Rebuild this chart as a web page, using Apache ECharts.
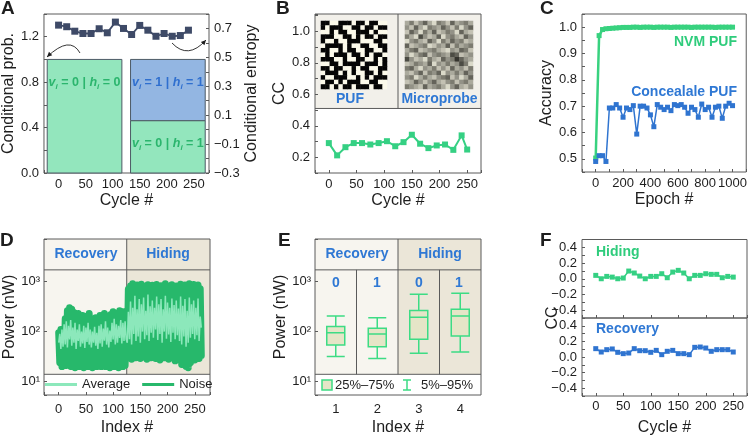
<!DOCTYPE html>
<html>
<head>
<meta charset="utf-8">
<script src="https://cdn.jsdelivr.net/npm/echarts@6/dist/echarts.min.js"></script>
<style>
html, body { margin: 0; padding: 0; background: #fff; }
#chart { width: 750px; height: 438px; }
</style>
</head>
<body>
<div id="chart"></div>
<script>
// ---- data ----
// A: conditional entropy per cycle, conditional probability blocks
const aCycles = [0, 15, 30, 45, 60, 75, 90, 105, 120, 135, 150, 165, 180, 195, 210, 225, 240];
const aEntropy = [0.723, 0.712, 0.681, 0.665, 0.665, 0.698, 0.670, 0.744, 0.700, 0.658, 0.721, 0.688, 0.646, 0.665, 0.646, 0.651, 0.688];
const condBars = [[-21, 117, 0, 1.0], [133, 271, 0.46, 1.0], [133, 271, 0, 0.46]]; // x0, x1, p0, p1
const condText = [['0', '0'], ['1', '1'], ['0', '1']]; // v_i | h_i

// B: correlation coefficient per cycle + the two maps
const bCycles = [0, 15, 30, 45, 60, 75, 90, 105, 120, 135, 150, 165, 180, 195, 210, 225, 240, 250];
const bCC = [0.290, 0.212, 0.264, 0.290, 0.290, 0.281, 0.290, 0.302, 0.270, 0.296, 0.343, 0.286, 0.258, 0.275, 0.281, 0.247, 0.339, 0.249];
const pufBits = [
  [1,1,0,0,1,1,1,0,1,1,0,1,1,0,0],
  [1,0,1,1,1,0,0,1,1,0,1,1,0,1,1],
  [0,0,1,0,1,1,0,0,1,1,1,0,1,0,0],
  [1,1,1,0,0,1,1,0,1,0,1,1,0,1,1],
  [1,0,0,1,0,0,1,1,1,0,0,0,1,1,0],
  [0,1,1,1,1,0,1,0,0,1,1,0,0,1,1],
  [1,1,0,0,1,0,1,1,0,0,1,1,0,0,1],
  [0,1,0,1,1,1,0,1,1,0,1,0,1,1,0],
  [1,1,1,0,0,1,0,0,1,1,0,0,1,0,1],
  [0,0,1,1,0,1,1,1,1,0,1,1,1,0,1],
  [1,1,0,1,1,0,0,1,0,1,1,0,0,1,1],
  [0,1,1,1,0,1,0,1,0,0,1,1,0,1,0],
  [1,0,0,1,1,1,0,0,1,0,1,0,1,1,1],
  [0,1,1,0,1,0,1,1,1,0,0,1,1,0,0],
  [1,1,0,1,0,1,1,0,1,1,1,0,1,1,0]
];
const probeGray = [
  [6,4,7,5,3,6,8,4,5,7,3,6,5,4,6],
  [5,7,3,6,8,4,5,6,3,5,7,4,8,5,3],
  [7,3,5,8,4,6,3,7,6,4,5,8,3,6,7],
  [4,6,8,2,5,7,6,3,8,5,4,6,7,3,5],
  [8,5,4,6,7,3,5,8,4,6,3,5,4,7,6],
  [3,7,6,5,4,8,7,5,6,3,7,4,6,5,4],
  [6,4,3,7,6,5,4,6,7,8,5,6,3,4,7],
  [5,8,6,4,3,7,5,4,5,6,2,3,7,6,5],
  [2,5,7,6,8,4,6,7,3,5,4,1,3,5,6],
  [7,6,4,5,6,3,8,5,6,4,6,5,2,4,8],
  [4,3,6,8,5,6,4,7,5,7,3,6,5,7,4],
  [6,7,5,3,7,4,5,3,8,5,6,4,6,3,5],
  [5,4,8,6,4,6,7,5,4,3,7,5,8,6,3],
  [7,6,3,5,7,5,3,6,7,5,4,7,5,4,6],
  [4,5,6,7,3,6,5,4,6,8,5,3,6,7,5]
];

// C: accuracy per epoch
const cEpochs = [0, 25, 50, 75, 100, 125, 150, 175, 200, 225, 250, 275, 300, 325, 350, 375, 400, 425, 450, 475, 500,
  525, 550, 575, 600, 625, 650, 675, 700, 725, 750, 775, 800, 825, 850, 875, 900, 925, 950, 975, 1000];
const nvmAcc = [0.503, 0.968, 0.991, 0.994, 0.995, 0.996, 0.997, 0.998, 0.999, 0.999, 0.999, 1.0, 1.0, 0.999, 1.0, 1.0, 1.0, 0.999, 1.0, 1.0, 1.0,
  1.0, 0.999, 1.0, 1.0, 1.0, 1.0, 1.0, 0.999, 1.0, 1.0, 1.0, 1.0, 1.0, 1.0, 0.999, 1.0, 1.0, 1.0, 1.0, 1.0];
const concealAcc = [0.490, 0.512, 0.512, 0.490, 0.693, 0.693, 0.706, 0.693, 0.658, 0.693, 0.687, 0.702, 0.594, 0.700, 0.700, 0.693, 0.667, 0.622, 0.706, 0.696, 0.687,
  0.696, 0.683, 0.706, 0.702, 0.706, 0.696, 0.673, 0.696, 0.687, 0.658, 0.708, 0.687, 0.696, 0.658, 0.696, 0.700, 0.654, 0.700, 0.711, 0.702];

// D: power trace, one sample every 2 indices
const noise = [
  95, 24, 110, 20, 105, 23, 180, 21, 260, 22,
  300, 20, 280, 23, 240, 19, 200, 21, 230, 20,
  170, 22, 210, 19, 190, 21, 200, 20, 230, 21,
  180, 19, 170, 22, 190, 20, 160, 23, 210, 20,
  190, 21, 230, 20, 200, 22, 180, 19, 220, 21,
  250, 20, 220, 22, 200, 19, 260, 21, 230, 20,
  250, 21, 240,
  30, 700, 33, 820, 28, 900, 35, 780, 30, 850,
  32, 760, 29, 880, 34, 800, 31, 720, 28, 860,
  33, 780, 30, 840, 36, 750, 29, 870, 32, 790,
  27, 830, 34, 760, 30, 900, 33, 810, 28, 740,
  35, 860, 31, 780, 26, 820, 33, 770, 30, 880,
  22, 790, 28, 850, 20, 760, 19, 900, 24, 830,
  30, 870, 27, 780, 32, 850, 29, 720, 33
];
const average = [
  60, 90, 45, 110, 50, 140, 55, 160, 48, 130,
  70, 170, 52, 120, 60, 150, 45, 110, 65, 140,
  50, 100, 58, 130, 47, 120, 62, 150, 55, 110,
  48, 100, 60, 125, 52, 95, 45, 130, 58, 140,
  50, 115, 66, 160, 55, 120, 48, 105, 62, 150,
  70, 180, 55, 140, 60, 130, 75, 170, 58, 150,
  65, 160, 70,
  60, 250, 70, 400, 55, 300, 90, 520, 65, 280,
  80, 450, 60, 350, 100, 480, 70, 260, 85, 550,
  65, 320, 95, 420, 75, 300, 110, 500, 68, 350,
  90, 450, 60, 280, 100, 520, 72, 380, 88, 300,
  62, 460, 95, 340, 70, 420, 85, 290, 65, 500,
  55, 330, 80, 450, 50, 260, 60, 480, 75, 350,
  90, 420, 70, 300, 85, 460, 65, 200, 120
];

// E: power distribution [5%, 25%, median, 75%, 95%]
const eIndex = ['1', '2', '3', '4'];
const eBoxes = [
  [31.6, 54, 95, 126, 206],
  [29, 50, 90, 117, 190],
  [37, 70, 194, 263, 558],
  [39, 82, 206, 280, 585]
];

// F: correlation coefficient per cycle
const fCycles = [0, 10, 20, 30, 40, 50, 60, 70, 80, 90, 100, 110, 120, 130, 140, 150, 160, 170, 180, 190, 200, 210, 220, 230, 240, 250];
const hidingCC = [0.043, 0.0, 0.03, 0.021, 0.0, 0.009, 0.098, 0.073, 0.034, 0.0, 0.03, 0.03, 0.064, 0.013, 0.085, 0.107, 0.073, 0.0, 0.043, 0.043, 0.064, 0.056, 0.056, 0.013, 0.03, 0.021];
const recoveryCC = [0.107, 0.064, 0.094, 0.103, 0.06, 0.043, 0.051, 0.107, 0.081, 0.081, 0.06, 0.085, 0.03, 0.073, 0.085, 0.043, 0.043, 0.03, 0.124, 0.128, 0.115, 0.073, 0.094, 0.094, 0.094, 0.064];

// ---- styling ----
const FONT = '"Liberation Sans", Arial, sans-serif';
const INK = '#1e1e1e';
const FRAME = '#5a5a5a';
const GREEN = '#35d083';
const BLUE = '#2f74d0';
const TXT_BLUE = '#2f78d4';
const TXT_GREEN = '#2fcc7c';
const REC_BG = '#f7f5ef';
const HID_BG = '#ebe6d8';

function isStep(v, step) { const k = v / step; return Math.abs(k - Math.round(k)) < 1e-6; }
function num(v, d) { return (Math.abs(v) < 1e-9 ? 0 : v).toFixed(d).replace('-', '\u2212'); }
function stepLabels(step, d) { return v => isStep(v, step) ? num(v, d) : ''; }
const SUP = { 1: '\u00b9', 2: '\u00b2', 3: '\u00b3' };
function powLabel(v) {
  const e = Math.log10(v), r = Math.round(e);
  return Math.abs(e - r) < 1e-6 && SUP[r] ? '10' + SUP[r] : '';
}

const noLine = { show: false, onZero: false };
const tickIn = { inside: true, length: 3, lineStyle: { color: FRAME } };

function vAxis(grid, min, max, step, fmt, extra) {
  return Object.assign({
    type: 'value', gridIndex: grid, min: min, max: max, minInterval: step, maxInterval: step,
    axisLine: noLine,
    axisTick: tickIn,
    splitLine: { show: false },
    axisLabel: { color: INK, fontSize: 13, fontFamily: FONT, margin: 5, formatter: fmt },
    nameLocation: 'middle',
    nameTextStyle: { color: INK, fontSize: 16, fontFamily: FONT }
  }, extra || {});
}
function logAxis(grid) {
  return {
    type: 'log', logBase: 10, gridIndex: grid, min: 5.4, max: 7100,
    axisLine: noLine,
    axisTick: tickIn,
    splitLine: { show: false },
    axisLabel: { color: INK, fontSize: 13, fontFamily: FONT, margin: 4, formatter: powLabel },
    name: 'Power (nW)', nameLocation: 'middle', nameGap: 22, nameRotate: 90,
    nameTextStyle: { color: INK, fontSize: 16, fontFamily: FONT }
  };
}
function hiddenCat(grid, n, inverse) {
  return { type: 'category', gridIndex: grid, show: false, inverse: !!inverse,
    data: Array.from({ length: n }, (_, i) => String(i)) };
}

function spanRect(api) {
  const a = api.coord([api.value(0), api.value(3)]);
  const b = api.coord([api.value(1), api.value(2)]);
  return { x: a[0], y: a[1], width: b[0] - a[0], height: b[1] - a[1] };
}
// background panels and divider lines, drawn under everything
function frameSeries(items, styles, xi, yi) {
  return {
    type: 'custom', xAxisIndex: xi, yAxisIndex: yi, z: -1, silent: true, clip: false,
    encode: { x: [0, 1], y: [2, 3] },
    data: items,
    renderItem: (params, api) => {
      const st = styles[params.dataIndex];
      if (st.line) {
        const a = api.coord([api.value(0), api.value(2)]);
        const b = api.coord([api.value(1), api.value(3)]);
        return { type: 'line', shape: { x1: a[0], y1: a[1], x2: b[0], y2: b[1] }, style: { stroke: st.line, lineWidth: 1 } };
      }
      return { type: 'rect', shape: spanRect(api), style: { fill: st.fill } };
    }
  };
}
function lineSeries(name, xs, ys, color, xi, yi, extra) {
  return Object.assign({
    type: 'line', name: name, xAxisIndex: xi, yAxisIndex: yi,
    data: xs.map((x, i) => [x, ys[i]]),
    symbol: 'rect', symbolSize: 5, showSymbol: true,
    itemStyle: { color: color }, lineStyle: { color: color, width: 1.5 },
    z: 3, silent: true
  }, extra || {});
}
function cells(rows) {
  const out = [];
  rows.forEach((row, r) => row.forEach((v, c) => out.push([c, r, v])));
  return out;
}

function condRich(v, h) { return '{it|v}{sub|i}{tx| = ' + v + ' | }{it|h}{sub|i}{tx| = ' + h + '}'; }
function condStyle(color) {
  const base = { fill: color, fontFamily: FONT, fontWeight: 'bold', lineHeight: 17 };
  return {
    it: Object.assign({}, base, { fontStyle: 'italic', fontSize: 12.5 }),
    sub: Object.assign({}, base, { fontStyle: 'italic', fontSize: 8, verticalAlign: 'bottom' }),
    tx: Object.assign({}, base, { fontSize: 12.5 })
  };
}
const condFill = ['#93e6bd', '#93b6e2', '#93e6bd'];
const condInk = ['#2bb56d', '#2f6fcf', '#2bb56d'];
const condLabelY = [0.8, 0.8, 0.26];

function label(text, x, y, style) {
  return { type: 'text', x: x, y: y, z: 10, silent: true,
    style: Object.assign({ text: text, fill: INK, fontSize: 14, fontWeight: 'bold', fontFamily: FONT,
      align: 'center', verticalAlign: 'middle' }, style || {}) };
}
function arrow(x1, y1, cx, cy, x2, y2) {
  const dx = x2 - cx, dy = y2 - cy, L = Math.hypot(dx, dy), ux = dx / L, uy = dy / L;
  const bx = x2 - 5 * ux, by = y2 - 5 * uy;
  return [
    { type: 'bezierCurve', z: 10, silent: true, shape: { x1: x1, y1: y1, x2: x2, y2: y2, cpx1: cx, cpy1: cy },
      style: { stroke: INK, lineWidth: 0.9, fill: 'none' } },
    { type: 'polygon', z: 10, silent: true,
      shape: { points: [[x2, y2], [bx - 2.4 * uy, by + 2.4 * ux], [bx + 2.4 * uy, by - 2.4 * ux]] },
      style: { fill: INK } }
  ];
}

const gridBox = { show: true, borderColor: FRAME, borderWidth: 1, backgroundColor: 'transparent' };

const chart = echarts.init(document.getElementById('chart'), null, { renderer: 'canvas' });

const xAxes = [
  vAxis(0, -27, 278, 50, stepLabels(50, 0), { name: 'Cycle #', nameGap: 20 }),
  vAxis(1, -25, 275, 50, stepLabels(50, 0), { name: 'Cycle #', nameGap: 20 }),
  hiddenCat(2, 15),
  hiddenCat(3, 15),
  vAxis(4, -100, 1100, 100, stepLabels(200, 0), { name: 'Epoch #', nameGap: 20 }),
  vAxis(5, -27, 278, 50, stepLabels(50, 0), { name: 'Index #', nameGap: 25 }),
  { type: 'category', gridIndex: 6, data: eIndex,
    axisLine: noLine, splitLine: { show: false },
    axisTick: { inside: true, length: 3, alignWithLabel: true, lineStyle: { color: FRAME } },
    axisLabel: { color: INK, fontSize: 13, fontFamily: FONT, margin: 8 },
    name: 'Index #', nameLocation: 'middle', nameGap: 25,
    nameTextStyle: { color: INK, fontSize: 16, fontFamily: FONT } },
  { type: 'value', gridIndex: 6, min: 0.5, max: 4.5, show: false, axisLine: noLine },
  vAxis(7, -25, 275, 50, () => ''),
  vAxis(8, -25, 275, 50, stepLabels(50, 0), { name: 'Cycle #', nameGap: 24 })
];
xAxes[5].axisLabel = Object.assign({}, xAxes[5].axisLabel, { margin: 8 });
xAxes[9].axisLabel = Object.assign({}, xAxes[9].axisLabel, { margin: 4 });

const yAxes = [
  vAxis(0, 0, 1.4, 0.2, stepLabels(0.4, 1), { name: 'Conditional prob.', nameGap: 23, nameRotate: 90 }),
  vAxis(0, -0.3, 0.8, 0.1, v => {
    const k = Math.round(v * 10);
    return Math.abs(v * 10 - k) < 1e-6 && Math.abs(k) % 2 === 1 ? num(v, 1) : '';
  }, { position: 'right', name: 'Conditional entropy', nameGap: 29, nameRotate: 90 }),
  vAxis(1, 0.1, 1.11, 0.1, stepLabels(0.2, 1), { name: 'CC', nameGap: 24, nameRotate: 90 }),
  hiddenCat(2, 15, true),
  hiddenCat(3, 15, true),
  vAxis(4, 0.45, 1.05, 0.05, stepLabels(0.1, 1), { name: 'Accuracy', nameGap: 23, nameRotate: 90 }),
  logAxis(5),
  logAxis(6),
  vAxis(7, -0.5, 0.5, 0.1, stepLabels(0.2, 1)),
  vAxis(8, -0.5, 0.5, 0.1, stepLabels(0.2, 1))
];
yAxes[7].nameGap = 24;

const series = [
  // 0 A blocks
  {
    type: 'custom', name: 'cond', xAxisIndex: 0, yAxisIndex: 0, z: 1, silent: true, clip: false,
    encode: { x: [0, 1], y: [2, 3] },
    data: condBars,
    renderItem: (params, api) => {
      const i = params.dataIndex;
      const c = api.coord([(api.value(0) + api.value(1)) / 2, condLabelY[i]]);
      return { type: 'group', children: [
        { type: 'rect', shape: spanRect(api), style: { fill: condFill[i], stroke: '#4d5a66', lineWidth: 1 } },
        { type: 'text', x: c[0], y: c[1], style: {
          text: condRich(condText[i][0], condText[i][1]), rich: condStyle(condInk[i]),
          fill: condInk[i], align: 'center', verticalAlign: 'middle' } }
      ] };
    }
  },
  // 1 A entropy
  lineSeries('entropy', aCycles, aEntropy, '#3e4a67', 0, 1, { symbolSize: 7, lineStyle: { color: '#3e4a67', width: 1.8 } }),
  // 2 B inset frame
  frameSeries([[-25, 275, 0.51, 1.11], [-25, 275, 0.51, 0.51], [125, 125, 0.51, 1.11]],
    [{ fill: '#f2f0ea' }, { line: FRAME }, { line: FRAME }], 1, 2),
  // 3 B CC
  lineSeries('cc', bCycles, bCC, GREEN, 1, 2, { symbolSize: 6, lineStyle: { color: GREEN, width: 2 } }),
  // 4, 5 maps
  { type: 'heatmap', xAxisIndex: 2, yAxisIndex: 3, data: cells(pufBits), silent: true, itemStyle: { borderWidth: 0 } },
  { type: 'heatmap', xAxisIndex: 3, yAxisIndex: 4, data: cells(probeGray), silent: true, itemStyle: { borderWidth: 0 } },
  // 6, 7 C
  lineSeries('NVM PUF', cEpochs, nvmAcc, '#38d27f', 4, 5, { symbolSize: 5, lineStyle: { color: '#38d27f', width: 2.5 } }),
  lineSeries('Concealale PUF', cEpochs, concealAcc, BLUE, 4, 5, { symbolSize: 5 }),
  // 8 D frame
  frameSeries([
    [-27, 125, 14, 7100], [125, 278, 14, 7100], [-27, 278, 5.4, 14],
    [-27, 278, 1714, 1714], [-27, 278, 14, 14], [125, 125, 14, 7100]
  ], [{ fill: REC_BG }, { fill: HID_BG }, { fill: '#ffffff' }, { line: FRAME }, { line: FRAME }, { line: FRAME }], 5, 6),
  // 9, 10 D traces
  { type: 'line', name: 'Noise', xAxisIndex: 5, yAxisIndex: 6, data: noise.map((v, i) => [i * 2, v]),
    showSymbol: false, symbol: 'none', silent: true, z: 3,
    itemStyle: { color: '#27b86b' }, lineStyle: { color: '#27b86b', width: 7, cap: 'round', join: 'round' } },
  { type: 'line', name: 'Average', xAxisIndex: 5, yAxisIndex: 6, data: average.map((v, i) => [i * 2, v]),
    showSymbol: false, symbol: 'none', silent: true, z: 4,
    itemStyle: { color: '#8ce8bb' }, lineStyle: { color: '#8ce8bb', width: 1.5 } },
  // 11 E frame
  frameSeries([
    [0.5, 2.5, 14, 7100], [2.5, 4.5, 14, 7100], [0.5, 4.5, 5.4, 14],
    [0.5, 4.5, 1714, 1714], [0.5, 4.5, 14, 14], [2.5, 2.5, 14, 7100], [1.5, 1.5, 14, 1714], [3.5, 3.5, 14, 1714]
  ], [{ fill: REC_BG }, { fill: HID_BG }, { fill: '#ffffff' }, { line: FRAME }, { line: FRAME }, { line: FRAME }, { line: FRAME }, { line: FRAME }], 7, 7),
  // 12 E boxes
  { type: 'boxplot', name: 'box', xAxisIndex: 6, yAxisIndex: 7, data: eBoxes, boxWidth: [18, 18], silent: true, z: 3,
    itemStyle: { color: '#e5e5c7', borderColor: '#3ddc84', borderWidth: 1.5 } },
  // 13, 14 F
  lineSeries('Hiding', fCycles, hidingCC, GREEN, 8, 8),
  lineSeries('Recovery', fCycles, recoveryCC, BLUE, 9, 9)
];

const graphics = [
  label('A', 1, 9, { fontSize: 19, align: 'left' }),
  label('B', 276, 9, { fontSize: 19, align: 'left' }),
  label('C', 540, 9, { fontSize: 19, align: 'left' }),
  label('D', 0, 241, { fontSize: 19, align: 'left' }),
  label('E', 278, 241, { fontSize: 19, align: 'left' }),
  label('F', 540, 241, { fontSize: 19, align: 'left' }),
  label('PUF', 350, 99, { fill: TXT_BLUE }),
  label('Microprobe', 439.5, 99, { fill: TXT_BLUE }),
  label('NVM PUF', 737, 42, { fill: TXT_GREEN, align: 'right' }),
  label('Concealale PUF', 737, 92, { fill: TXT_BLUE, align: 'right' }),
  label('Recovery', 86, 254, { fill: TXT_BLUE }),
  label('Hiding', 168, 254, { fill: TXT_BLUE }),
  label('Recovery', 357, 254, { fill: TXT_BLUE }),
  label('Hiding', 440, 254, { fill: TXT_BLUE }),
  label('0', 336, 283, { fill: TXT_BLUE }),
  label('1', 377, 283, { fill: TXT_BLUE }),
  label('0', 419, 283, { fill: TXT_BLUE }),
  label('1', 459, 283, { fill: TXT_BLUE }),
  label('Hiding', 596, 252, { fill: TXT_GREEN, align: 'left' }),
  label('Recovery', 596, 329, { fill: TXT_BLUE, align: 'left' }),
  label('CC', 553, 318, { fontSize: 16, fontWeight: 'normal' }),
  // E legend
  { type: 'rect', z: 10, silent: true, shape: { x: 322, y: 380, width: 10, height: 10 },
    style: { fill: '#e5e5c7', stroke: '#3ddc84', lineWidth: 1.5 } },
  label('25%\u201375%', 335, 385, { fontSize: 13, fontWeight: 'normal', align: 'left' }),
  { type: 'polyline', z: 10, silent: true,
    shape: { points: [[403, 380], [411, 380], [407, 380], [407, 390], [403, 390], [411, 390]] },
    style: { stroke: '#3ddc84', lineWidth: 1.5, fill: 'none' } },
  label('5%\u201395%', 421, 385, { fontSize: 13, fontWeight: 'normal', align: 'left' })
].concat(arrow(80, 53, 70, 35, 47, 57), arrow(172, 43, 188, 60, 206, 40));
graphics[20].rotation = Math.PI / 2;

chart.setOption({
  animation: false,
  backgroundColor: '#ffffff',
  textStyle: { fontFamily: FONT },
  grid: [
    Object.assign({ left: 43, top: 14, width: 166, height: 159 }, gridBox),
    Object.assign({ left: 315, top: 14, width: 166, height: 159 }, gridBox),
    { left: 321, top: 21, width: 66, height: 68, show: false },
    { left: 405, top: 21, width: 68, height: 68, show: false },
    Object.assign({ left: 582, top: 14, width: 165, height: 158 }, gridBox),
    Object.assign({ left: 44, top: 239, width: 166, height: 156 }, gridBox),
    Object.assign({ left: 315, top: 239, width: 166, height: 156 }, gridBox),
    Object.assign({ left: 582, top: 239.5, width: 166, height: 78.5 }, gridBox),
    Object.assign({ left: 582, top: 318, width: 166, height: 78 }, gridBox)
  ],
  xAxis: xAxes,
  yAxis: yAxes,
  visualMap: [
    { type: 'continuous', show: false, seriesIndex: 4, min: 0, max: 1, inRange: { color: ['#fbf9ea', '#050505'] } },
    { type: 'continuous', show: false, seriesIndex: 5, min: 0, max: 9, inRange: { color: ['#1d1d18', '#f2f0df'] } }
  ],
  legend: {
    data: ['Average', 'Noise'], left: 45, top: 378, padding: 0, selectedMode: false,
    icon: 'rect', itemWidth: 32, itemHeight: 3, itemGap: 12,
    textStyle: { fontSize: 13, fontFamily: FONT, color: INK }
  },
  graphic: { elements: graphics },
  series: series
});
window.addEventListener('resize', () => chart.resize());
</script>
</body>
</html>
